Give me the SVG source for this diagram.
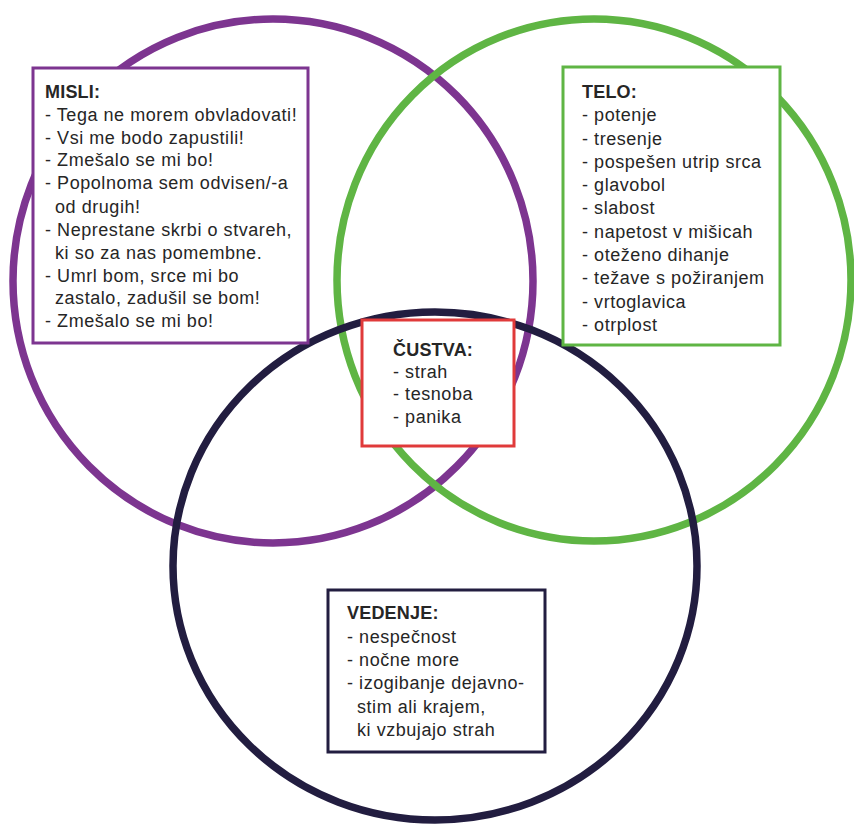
<svg xmlns="http://www.w3.org/2000/svg" width="854" height="829" viewBox="0 0 854 829">
<style>
.c{fill:none;stroke-width:7.5}
.box{fill:#ffffff;stroke-width:3}
text{font-family:"Liberation Sans","Arial","DejaVu Sans",sans-serif;font-size:18px;letter-spacing:0.55px;fill:#262626}
.h{font-weight:bold;letter-spacing:0.2px}
</style>
<rect width="854" height="829" fill="#ffffff"/>
<g id="connectors">
<ellipse id="circle-misli" class="c" cx="273" cy="281" rx="260" ry="262" stroke="#7d3590"/>
<ellipse id="circle-telo" class="c" cx="594" cy="280" rx="257" ry="261" stroke="#5fb544"/>
<ellipse id="circle-vedenje" class="c" cx="435" cy="566" rx="262" ry="254" stroke="#221d40"/>
</g>
<g id="misli">
<rect class="box" x="33" y="68" width="275" height="275" stroke="#7d3590"/>
<text x="45" y="98" class="h">MISLI:</text>
<text x="45" y="121">- Tega ne morem obvladovati!</text>
<text x="45" y="144">- Vsi me bodo zapustili!</text>
<text x="45" y="166">- Zmešalo se mi bo!</text>
<text x="45" y="189">- Popolnoma sem odvisen/-a</text>
<text x="55" y="213">od drugih!</text>
<text x="45" y="236">- Neprestane skrbi o stvareh,</text>
<text x="55" y="259">ki so za nas pomembne.</text>
<text x="45" y="282">- Umrl bom, srce mi bo</text>
<text x="55" y="304">zastalo, zadušil se bom!</text>
<text x="45" y="327">- Zmešalo se mi bo!</text>
</g>
<g id="telo">
<rect class="box" x="563" y="67" width="217" height="278" stroke="#5fb544"/>
<text x="582" y="98" class="h">TELO:</text>
<text x="582" y="121">- potenje</text>
<text x="582" y="145">- tresenje</text>
<text x="582" y="168">- pospešen utrip srca</text>
<text x="582" y="191">- glavobol</text>
<text x="582" y="214">- slabost</text>
<text x="582" y="238">- napetost v mišicah</text>
<text x="582" y="261">- oteženo dihanje</text>
<text x="582" y="284">- težave s požiranjem</text>
<text x="582" y="308">- vrtoglavica</text>
<text x="582" y="331">- otrplost</text>
</g>
<g id="custva">
<rect class="box" x="362" y="320" width="152" height="126" stroke="#e03a3a"/>
<text x="393" y="356" class="h">ČUSTVA:</text>
<text x="393" y="378">- strah</text>
<text x="393" y="400">- tesnoba</text>
<text x="393" y="423">- panika</text>
</g>
<g id="vedenje">
<rect class="box" x="328" y="590" width="217" height="162" stroke="#221d40"/>
<text x="347" y="619" class="h">VEDENJE:</text>
<text x="347" y="643">- nespečnost</text>
<text x="347" y="666">- nočne more</text>
<text x="347" y="689">- izogibanje dejavno-</text>
<text x="357" y="713">stim ali krajem,</text>
<text x="357" y="736">ki vzbujajo strah</text>
</g>
</svg>
